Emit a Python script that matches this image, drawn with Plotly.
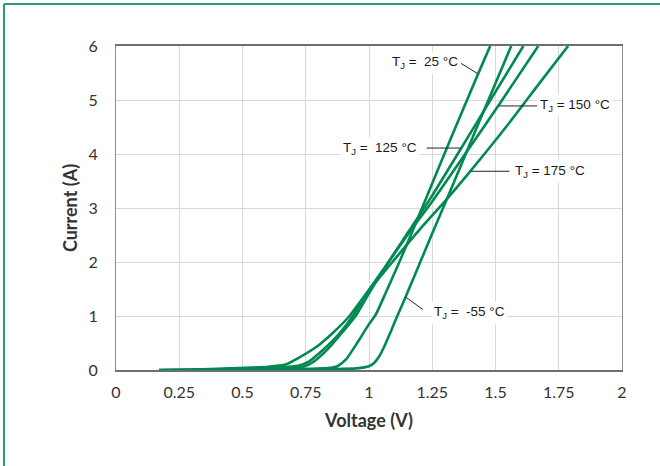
import plotly.graph_objects as go

# Typical forward characteristics: forward current vs forward voltage at five junction temperatures
temps = ["-55", "25", "125", "150", "175"]

v_m55 = [0.58, 0.85, 0.95, 1.0, 1.02, 1.04, 1.06, 1.085, 1.11, 1.14, 1.18, 1.225, 1.27, 1.31, 1.40, 1.48, 1.562]
i_m55 = [0.0, 0.015, 0.03, 0.07, 0.13, 0.25, 0.43, 0.70, 0.98, 1.30, 1.745, 2.25, 2.75, 3.19, 4.2, 5.09, 6.0]

v_25 = [0.45, 0.75, 0.85, 0.875, 0.91, 0.96, 1.0, 1.026, 1.068, 1.12, 1.17, 1.223, 1.32, 1.43, 1.479]
i_25 = [0.0, 0.02, 0.04, 0.07, 0.20, 0.55, 0.85, 1.02, 1.45, 2.0, 2.55, 3.15, 4.25, 5.47, 6.0]

v_125 = [0.30, 0.60, 0.70, 0.745, 0.78, 0.84, 0.895, 0.947, 1.0, 1.07, 1.15, 1.239, 1.357, 1.48, 1.61]
i_125 = [0.0, 0.02, 0.04, 0.07, 0.15, 0.40, 0.70, 1.0, 1.42, 1.95, 2.52, 3.15, 4.05, 5.0, 6.0]

v_150 = [0.17, 0.50, 0.65, 0.72, 0.76, 0.82, 0.88, 0.936, 0.995, 1.07, 1.16, 1.254, 1.38, 1.515, 1.669]
i_150 = [0.0, 0.02, 0.05, 0.08, 0.15, 0.38, 0.66, 1.0, 1.45, 1.95, 2.55, 3.15, 4.0, 4.92, 6.0]

v_175 = [0.17, 0.30, 0.45, 0.60, 0.67, 0.72, 0.79, 0.86, 0.923, 0.99, 1.08, 1.20, 1.305, 1.404, 1.55, 1.68, 1.787]
i_175 = [0.0, 0.01, 0.03, 0.06, 0.10, 0.22, 0.42, 0.70, 1.0, 1.42, 1.93, 2.60, 3.15, 3.70, 4.55, 5.35, 6.0]

x_ticks = [0, 0.25, 0.5, 0.75, 1, 1.25, 1.5, 1.75, 2]
x_tick_text = ["0", "0.25", "0.5", "0.75", "1", "1.25", "1.5", "1.75", "2"]
y_ticks = [0, 1, 2, 3, 4, 5, 6]

GREEN = "#008A52"
FRAME = "#2E9A70"

series = [(v_m55, i_m55), (v_25, i_25), (v_125, i_125), (v_150, i_150), (v_175, i_175)]

fig = go.Figure()
for t, (v, i) in zip(temps, series):
    fig.add_trace(go.Scatter(x=v, y=i, mode="lines", name=f"TJ = {t} °C",
                             line=dict(color=GREEN, width=2.6, shape="spline", smoothing=0.6),
                             showlegend=False))

# Curve labels: (temperature, label text, text position, leader start on curve, leader end at text)
labels = [
    ("25",  "T<sub>J</sub> =  25 °C",  (1.222, 5.69), (1.429, 5.49), (1.363, 5.68)),
    ("150", "T<sub>J</sub> = 150 °C",  (1.815, 4.89), (1.515, 4.89), (1.665, 4.89)),
    ("125", "T<sub>J</sub> =  125 °C", (1.045, 4.11), (1.362, 4.11), (1.228, 4.11)),
    ("175", "T<sub>J</sub> = 175 °C",  (1.716, 3.68), (1.404, 3.68), (1.555, 3.68)),
    ("-55", "T<sub>J</sub> =  -55 °C", (1.396, 1.06), (1.145, 1.35), (1.213, 1.12)),
]

for t, txt, (tx, ty), (x0, y0), (x1, y1) in labels:
    fig.add_shape(type="line", x0=x0, y0=y0, x1=x1, y1=y1, xref="x", yref="y",
                  line=dict(color="#222222", width=1))
    fig.add_annotation(x=tx, y=ty, xref="x", yref="y", showarrow=False, text=txt,
                       font=dict(family="Liberation Sans", size=13.5, color="#1a1a1a"),
                       bgcolor="white", borderpad=2)

# Outer frame lines (top and left edges)
L, R, T, B = 116, 38, 46, 96
W, H = 660, 466
pw, ph = W - L - R, H - T - B
def px(x):
    return (x - L) / pw
def py(y):
    return (H - B - y) / ph
fig.add_shape(type="line", xref="paper", yref="paper", x0=px(4), x1=px(662), y0=py(4), y1=py(4),
              line=dict(color=FRAME, width=2))
fig.add_shape(type="line", xref="paper", yref="paper", x0=px(4), x1=px(4), y0=py(4), y1=py(468),
              line=dict(color=FRAME, width=2))

axis_font = dict(family="Lato", size=16, color="#333333")
title_font = dict(family="Lato", size=18, color="#333333")

fig.update_layout(
    width=W, height=H,
    margin=dict(l=L, r=R, t=T, b=B),
    paper_bgcolor="white", plot_bgcolor="white",
    xaxis=dict(range=[0, 2], tickvals=x_ticks, ticktext=x_tick_text,
               showgrid=True, gridcolor="#D9D9D9", gridwidth=1,
               showline=True, linecolor="#6E6E6E", linewidth=1.5, mirror=True,
               zeroline=False, ticks="", tickfont=axis_font, ticklabelstandoff=7,
               title=dict(text="<b>Voltage (V)</b>", font=title_font, standoff=14)),
    yaxis=dict(range=[0, 6], tickvals=y_ticks,
               showgrid=True, gridcolor="#D9D9D9", gridwidth=1,
               showline=True, linecolor="#8C8C8C", linewidth=1.2, mirror=True,
               zeroline=False, ticks="", tickfont=axis_font, ticklabelstandoff=14,
               title=dict(text="<b>Current (A)</b>", font=title_font, standoff=6)),
)

fig.write_html("out.html")
